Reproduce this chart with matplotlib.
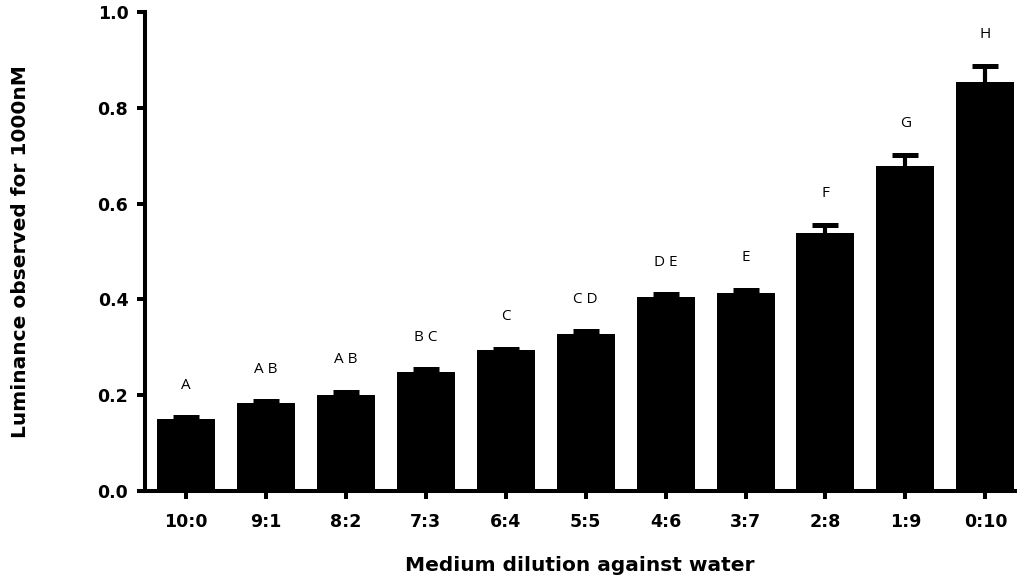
import matplotlib
matplotlib.use("Agg")
import matplotlib.pyplot as plt
import numpy as np

# Dilution ratios (medium : water)
dilutions = ["10:0", "9:1", "8:2", "7:3", "6:4", "5:5", "4:6", "3:7", "2:8", "1:9", "0:10"]
# Mean luminance for 1000 nM and the upper error (SEM)
luminance = [0.150, 0.183, 0.201, 0.248, 0.294, 0.328, 0.404, 0.414, 0.539, 0.678, 0.853]
sem = [0.004, 0.004, 0.006, 0.006, 0.003, 0.006, 0.007, 0.006, 0.016, 0.023, 0.034]
# Statistical grouping letters
groups = ["A", "A B", "A B", "B C", "C", "C D", "D E", "E", "F", "G", "H"]
yticks = [0.0, 0.2, 0.4, 0.6, 0.8, 1.0]

fig = plt.figure(figsize=(10.24, 5.82), dpi=100)
ax = fig.add_axes([0.1416, 0.1564, 0.8496, 0.8230])

x = np.arange(len(dilutions))
lw = 2.9
ax.bar(x, luminance, width=0.725, color="black", edgecolor="none", zorder=2)
eb = ax.errorbar(x, luminance, yerr=[np.zeros(len(sem)), sem], fmt="none",
                 ecolor="black", elinewidth=3.0, capsize=9.5, capthick=3.6, zorder=3)
# only the upper cap is shown
caps = eb.lines[1]
if len(caps) == 2:
    caps[0].set_visible(False)

for xi, m, e, g in zip(x, luminance, sem, groups):
    ax.annotate(g, (xi, m + e), xytext=(0, 23), textcoords="offset points",
                ha="center", va="center", fontsize=11, family="Open Sans")

ax.set_xlim(-0.51, 10.37)
ax.set_ylim(0, 1.0)
ax.set_xticks(x)
ax.set_xticklabels(dilutions, fontsize=12.5, fontweight="bold")
ax.set_yticks(yticks)
ax.set_yticklabels([f"{v:.1f}" for v in yticks], fontsize=12.5, fontweight="bold")

for side in ("top", "right"):
    ax.spines[side].set_visible(False)
for side in ("left", "bottom"):
    ax.spines[side].set_linewidth(lw)
    ax.spines[side].set_capstyle("projecting")
ax.tick_params(axis="both", length=6, width=lw, direction="out", color="black")
ax.tick_params(axis="x", pad=10)
ax.tick_params(axis="y", pad=6)

ax.set_xlabel("Medium dilution against water", fontsize=14.5, fontweight="bold")
ax.set_ylabel("Luminance observed for 1000nM", fontsize=14.5, fontweight="bold")
ax.xaxis.set_label_coords(0.5, -0.135)
ax.xaxis.label.set_va("top")
ax.yaxis.set_label_coords(-0.132, 0.5)

fig.savefig("out.png", dpi=100)
